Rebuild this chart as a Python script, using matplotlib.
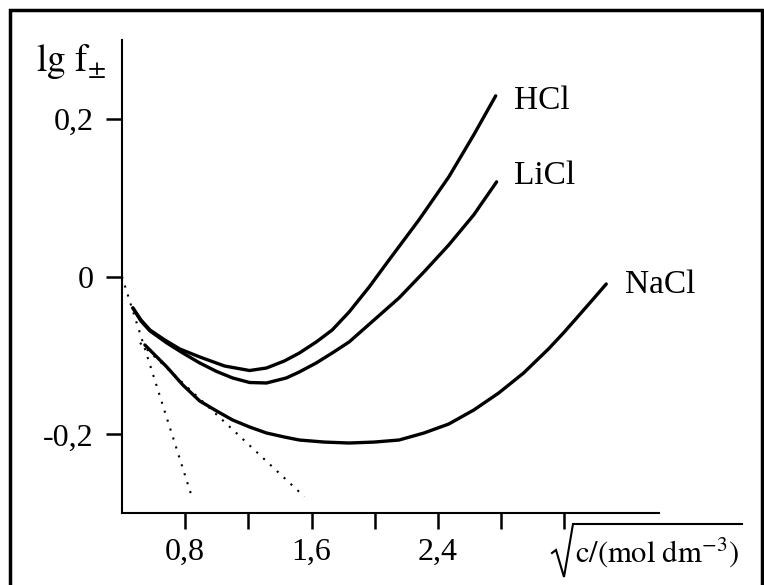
import matplotlib
matplotlib.use('Agg')
import matplotlib.pyplot as plt
from matplotlib.patches import Rectangle
from matplotlib.lines import Line2D

plt.rcParams['font.family'] = ['Liberation Serif', 'DejaVu Serif']
plt.rcParams['mathtext.fontset'] = 'stix'

# sqrt(c) values and lg f values
hcl_x = [0.469, 0.520, 0.577, 0.671, 0.766, 0.892, 1.050, 1.208, 1.315, 1.428, 1.523,
         1.630, 1.731, 1.838, 1.965, 2.091, 2.280, 2.469, 2.627, 2.766]
hcl_y = [-0.0397, -0.0549, -0.0676, -0.0803, -0.0917, -0.1018, -0.1133, -0.1190, -0.1158,
         -0.1069, -0.0968, -0.0828, -0.0676, -0.0448, -0.0131, 0.0212, 0.0719, 0.1264,
         0.1797, 0.2292]

licl_x = [0.469, 0.520, 0.577, 0.684, 0.785, 0.892, 0.999, 1.100, 1.208, 1.315, 1.441,
          1.523, 1.630, 1.731, 1.838, 1.996, 2.154, 2.312, 2.469, 2.627, 2.772]
licl_y = [-0.0397, -0.0562, -0.0688, -0.0841, -0.0968, -0.1094, -0.1202, -0.1284, -0.1342,
          -0.1348, -0.1284, -0.1208, -0.1094, -0.0968, -0.0828, -0.0549, -0.0270, 0.0060,
          0.0402, 0.0783, 0.1202]

nacl_x = [0.545, 0.608, 0.684, 0.785, 0.892, 0.999, 1.100, 1.208, 1.315, 1.428, 1.523,
          1.681, 1.838, 1.996, 2.154, 2.312, 2.469, 2.627, 2.785, 2.943, 3.100, 3.195,
          3.290, 3.384, 3.466]
nacl_y = [-0.0866, -0.0993, -0.1145, -0.1373, -0.1576, -0.1703, -0.1817, -0.1906, -0.1982,
          -0.2033, -0.2071, -0.2097, -0.2109, -0.2097, -0.2071, -0.1982, -0.1868, -0.1691,
          -0.1475, -0.1221, -0.0917, -0.0714, -0.0498, -0.0283, -0.0093]

# limiting-law dotted lines
lim1_x = [0.40, 0.842]
lim1_y = [0.0, -0.279]
lim2_x = [0.514, 1.555]
lim2_y = [-0.084, -0.279]

names = ['HCl', 'LiCl', 'NaCl']
name_x = [2.88, 2.88, 3.586]
name_y = [0.223, 0.128, -0.0105]

xticks = [0.8, 1.2, 1.6, 2.0, 2.4, 2.8, 3.2]
xticklabels = ['0,8', '', '1,6', '', '2,4', '', '']
yticks = [0.2, 0.0, -0.2]
yticklabels = ['0,2', '0', '-0,2']

W, H = 764, 585
fig = plt.figure(figsize=(W/100, H/100), dpi=100)
ax = fig.add_axes([122/W, 1-513.3/H, (659-122)/W, (513.3-40)/H])

for xs, ys in [(hcl_x, hcl_y), (licl_x, licl_y), (nacl_x, nacl_y)]:
    ax.plot(xs, ys, color='black', lw=2.4, solid_capstyle='round', solid_joinstyle='round')
for xs, ys in [(lim1_x, lim1_y), (lim2_x, lim2_y)]:
    ax.plot(xs, ys, color='black', lw=1.5, linestyle=(0, (1, 3.5)))

for n, x, y in zip(names, name_x, name_y):
    ax.text(x, y, n, fontsize=24, va='center', ha='left')

ax.set_xlim(0.4, 3.8)
ax.set_ylim(-0.3, 0.3)
ax.set_xticks(xticks)
ax.set_xticklabels(xticklabels, fontsize=23)
ax.set_yticks(yticks)
ax.set_yticklabels(yticklabels, fontsize=23)
ax.tick_params(direction='out', length=11.5, width=1.8)
ax.tick_params(axis='y', pad=9)
ax.tick_params(axis='x', pad=6)
for s in ['top', 'right']:
    ax.spines[s].set_visible(False)
for s in ['left', 'bottom']:
    ax.spines[s].set_linewidth(1.5)

fig.text(36/W, 1-71/H, r'$\mathrm{lg\ f}_{\pm}$', fontsize=27, va='baseline')

# x label: radical drawn by hand, then the unit text under its bar
rx = [552, 556, 564, 573, 742]
ry = [553, 550, 577, 524, 524]
fig.lines.append(Line2D([v/W for v in rx], [1-v/H for v in ry], transform=fig.transFigure,
                        color='black', lw=1.5, solid_joinstyle='miter'))
fig.text(575/W, 1-562/H, r'$\mathrm{c/(mol\ dm^{-3})}$', fontsize=22, va='baseline')

# outer frame
fig.patches.append(Rectangle((9.5/W, -0.02), (762-9.5)/W, 1.02-10/H,
                             transform=fig.transFigure, fill=False, lw=2.5, ec='black'))

fig.savefig('out.png', dpi=100)
